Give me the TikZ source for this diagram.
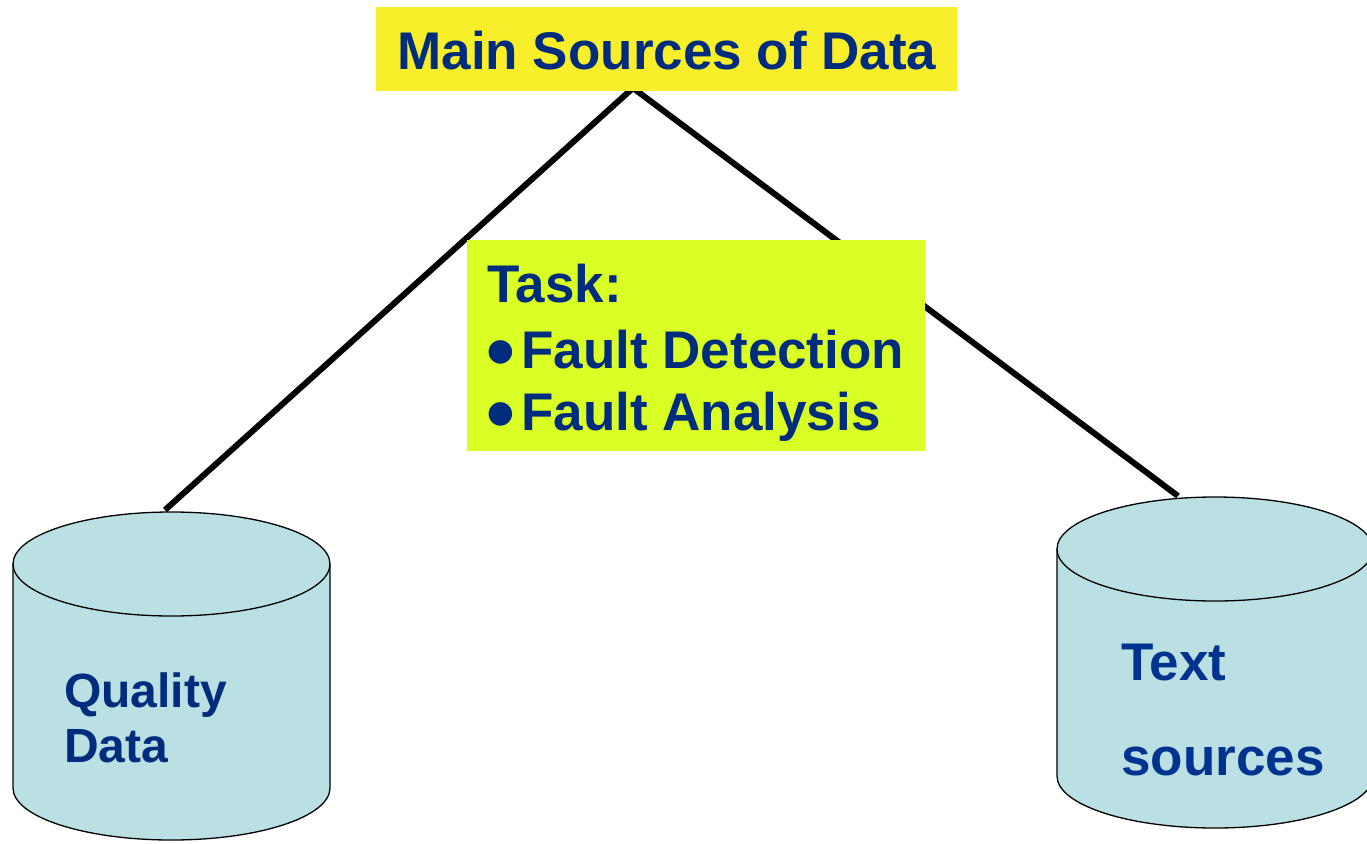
\documentclass[tikz,border=0pt]{standalone}
\usepackage{fontspec}
\setmainfont{Liberation Sans}
\newcommand{\bigbullet}{\smash{\raisebox{-11pt}{\scalebox{1.55}{•}}}\hspace{0.12em}}
\begin{document}
\begin{tikzpicture}[x=1pt,y=-1pt,
  txt/.style={text=navy,font=\bfseries\fontsize{53}{63}\selectfont,inner sep=0pt},
  dbtxt/.style={text=navy,font=\bfseries\fontsize{48}{55}\selectfont,inner sep=0pt,anchor=base west},
  dbtxtb/.style={text=navyb,font=\bfseries\fontsize{53}{60}\selectfont,inner sep=0pt,anchor=base west},
  link/.style={line width=6pt,black},
  cylfill/.style={fill=cylblue},
  cylline/.style={draw=black,line width=1.3pt}]
\definecolor{navy}{HTML}{002C7E}
\definecolor{navyb}{HTML}{00338F}
\definecolor{topyellow}{HTML}{F8EE2A}
\definecolor{lime}{HTML}{D9FF24}
\definecolor{cylblue}{HTML}{BAE0E3}
\useasboundingbox (0,0) rectangle (1367,843);

% end points of the two connectors
\coordinate (apex) at (633,88);
\coordinate (qtop) at (165,510);
\coordinate (ttop) at (1178,496);

\draw[link] (qtop) -- (apex) -- (ttop);

% title and task boxes
\node[fill=topyellow,minimum width=581pt,minimum height=84pt,inner sep=0pt] (title) at (666.5,49) {};
\node[txt,anchor=base] (titletext) at (667,70) {Main Sources of Data};
\node[fill=lime,minimum width=458pt,minimum height=211pt,inner sep=0pt] (task) at (696,345.5) {};
\node[txt,anchor=base west] (t1) at (487,302) {Task:};
\node[txt,anchor=base west] (t2) at (486,368) {\bigbullet Fault Detection};
\node[txt,anchor=base west] (t3) at (486,430) {\bigbullet Fault Analysis};

% left database cylinder
\path[cylfill] (13,564) -- (13,788) arc[start angle=180,end angle=360,x radius=158.5pt,y radius=52pt]
  -- (330,564) arc[start angle=0,end angle=180,x radius=158.5pt,y radius=52pt] -- cycle;
\draw[cylline] (13,564) -- (13,788) arc[start angle=180,end angle=360,x radius=158.5pt,y radius=52pt] -- (330,564);
\draw[cylline] (171.5,564) ellipse[x radius=158.5pt,y radius=52pt];
\node[dbtxt] (q1) at (64,707) {Quality};
\node[dbtxt] (q2) at (64,762) {Data};

% right database cylinder
\path[cylfill] (1057,549) -- (1057,776) arc[start angle=180,end angle=360,x radius=158pt,y radius=52pt]
  -- (1373,549) arc[start angle=0,end angle=180,x radius=158pt,y radius=52pt] -- cycle;
\draw[cylline] (1057,549) -- (1057,776) arc[start angle=180,end angle=360,x radius=158pt,y radius=52pt] -- (1373,549);
\draw[cylline] (1215,549) ellipse[x radius=158pt,y radius=52pt];
\node[dbtxtb] (s1) at (1121,680) {Text};
\node[dbtxtb] (s2) at (1121,775) {sources};
\end{tikzpicture}
\end{document}
